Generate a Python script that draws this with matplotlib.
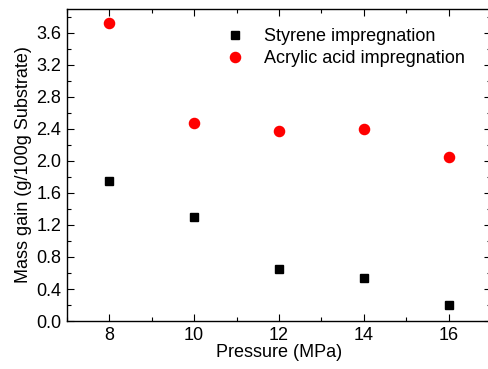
import numpy as np
import matplotlib
matplotlib.use("Agg")
import matplotlib.pyplot as plt
from matplotlib.ticker import MultipleLocator

# data
pressure = [8, 10, 12, 14, 16]
styrene = [1.75, 1.30, 0.65, 0.54, 0.20]
acrylic = [3.72, 2.47, 2.38, 2.40, 2.05]

plt.rcParams['font.family'] = ['Liberation Sans', 'DejaVu Sans']
plt.rcParams['font.size'] = 13

fig = plt.figure(figsize=(4.89, 3.69), dpi=100)
ax = fig.add_axes([0.137, 0.130, 0.867, 0.846])

ax.plot(pressure, styrene, 's', color='black', markersize=6.3, label='Styrene impregnation')
ax.plot(pressure, acrylic, 'o', color='red', markersize=7.3, label='Acrylic acid impregnation')

ax.set_xlim(7, 17)
ax.set_ylim(0, 3.9)
ax.xaxis.set_major_locator(MultipleLocator(2))
ax.xaxis.set_minor_locator(MultipleLocator(1))
ax.yaxis.set_major_locator(MultipleLocator(0.4))
ax.yaxis.set_minor_locator(MultipleLocator(0.2))
ax.set_xticks([8, 10, 12, 14, 16])
ax.yaxis.set_major_formatter(matplotlib.ticker.FormatStrFormatter('%.1f'))

ax.tick_params(which='both', direction='in', top=True, right=True)
ax.tick_params(which='major', length=5, width=0.8, labelsize=13, pad=4)
ax.tick_params(which='minor', length=3, width=0.8)
for s in ax.spines.values():
    s.set_linewidth(1.0)

ax.set_xlabel('Pressure (MPa)', fontsize=13, labelpad=0)
ax.set_ylabel('Mass gain (g/100g Substrate)', fontsize=13, labelpad=3)

# legend without frame, placed near the top middle
ax.legend(loc='upper left', bbox_to_anchor=(0.345, 0.972), frameon=False,
          fontsize=13, handletextpad=1.0, borderaxespad=0.2, labelspacing=0.25,
          handlelength=1.2)

fig.savefig('out.png', dpi=100)
